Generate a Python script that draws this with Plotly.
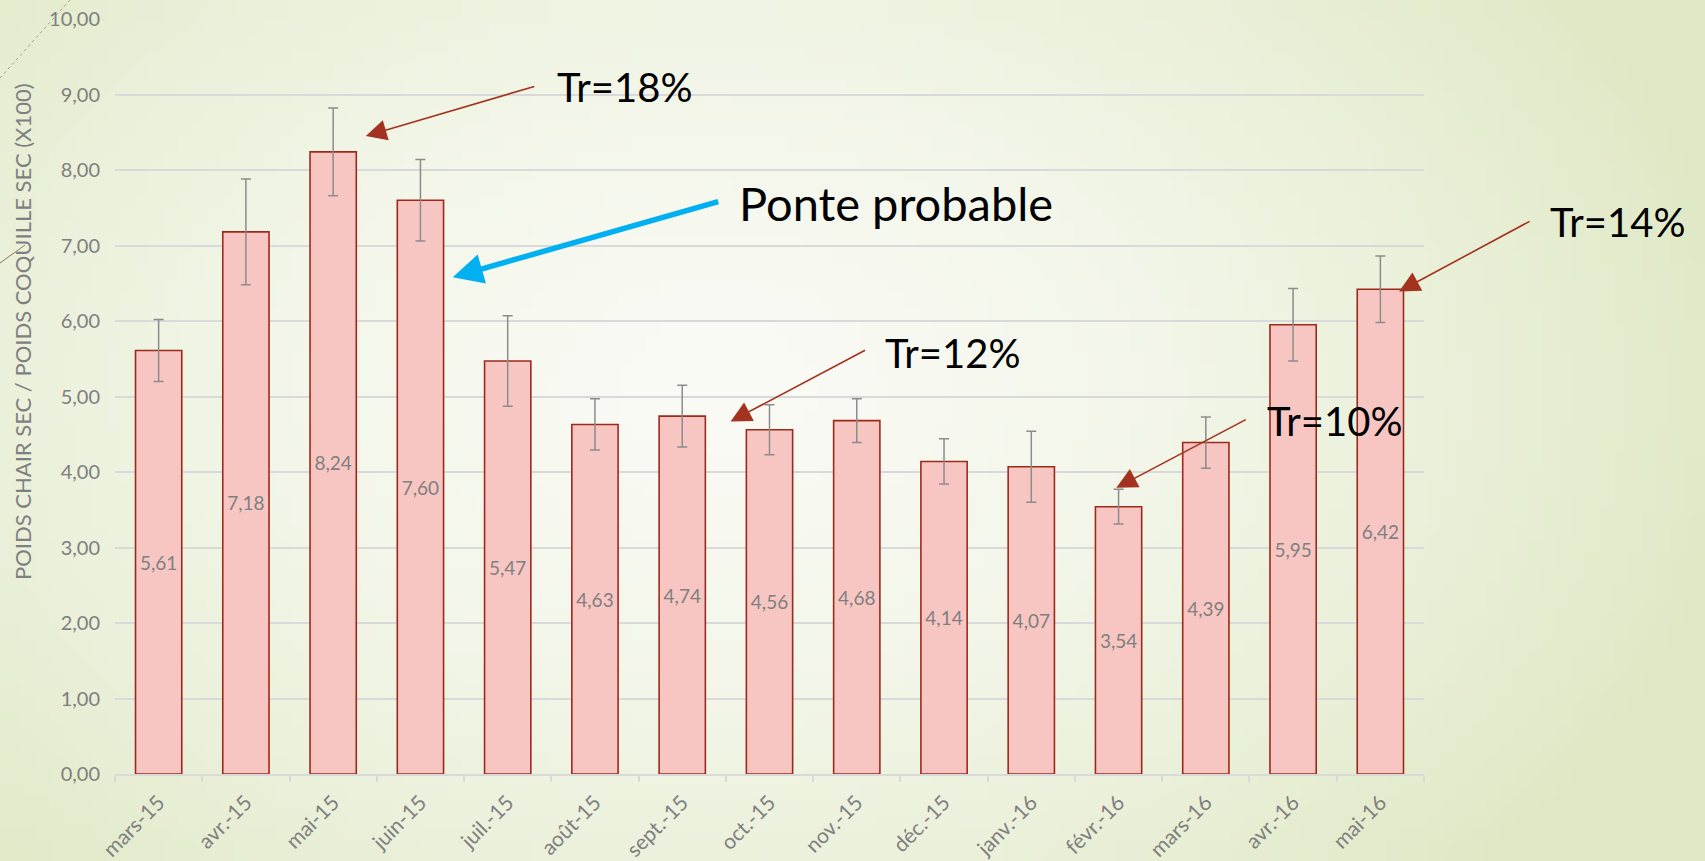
import base64
import struct
import zlib

import plotly.graph_objects as go

# ---------------- data ----------------
categories = ["mars-15", "avr.-15", "mai-15", "juin-15", "juil.-15", "août-15",
              "sept.-15", "oct.-15", "nov.-15", "déc.-15", "janv.-16", "févr.-16",
              "mars-16", "avr.-16", "mai-16"]
values = [5.61, 7.18, 8.24, 7.60, 5.47, 4.63, 4.74, 4.56, 4.68, 4.14, 4.07, 3.54,
          4.39, 5.95, 6.42]
errors = [0.41, 0.70, 0.58, 0.54, 0.60, 0.34, 0.41, 0.33, 0.29, 0.30, 0.47, 0.23,
          0.34, 0.48, 0.44]
y_title = "POIDS CHAIR SEC / POIDS COQUILLE SEC (X100)"

# ---------------- layout geometry (pixels) ----------------
W, H = 1705, 861
L, R, T, B = 115, 281, 19, 87
PW, PH = W - L - R, H - T - B


def px_x(px):
    return (px - L) / PW


def px_y(py):
    return (H - B - py) / PH


# ---------------- background gradient image ----------------
def make_bg_png(w=120, h=60):
    c0 = (249, 250, 244)
    c1 = (222, 232, 196)
    rows = []
    for j in range(h):
        row = bytearray([0])
        fy = j / (h - 1)
        for i in range(w):
            fx = i / (w - 1)
            t = (((fx - 0.42) / 0.62) ** 2 + ((fy - 0.45) / 0.85) ** 2) ** 0.5
            t = min(1.0, t) ** 1.6
            row += bytes(int(round(c0[k] + (c1[k] - c0[k]) * t)) for k in range(3))
        rows.append(bytes(row))
    raw = b"".join(rows)

    def chunk(tag, data):
        c = struct.pack(">I", len(data)) + tag + data
        return c + struct.pack(">I", zlib.crc32(tag + data) & 0xFFFFFFFF)

    png = b"\x89PNG\r\n\x1a\n"
    png += chunk(b"IHDR", struct.pack(">IIBBBBB", w, h, 8, 2, 0, 0, 0))
    png += chunk(b"IDAT", zlib.compress(raw, 9))
    png += chunk(b"IEND", b"")
    return "data:image/png;base64," + base64.b64encode(png).decode()


FONT = "Century Gothic, Lato, sans-serif"
GRAY = "#7f7f7f"
RED = "#a3321f"

fig = go.Figure()
fig.add_trace(go.Bar(
    x=categories,
    y=values,
    marker=dict(color="#f8c6c2", line=dict(color="#9c2a1b", width=1.6)),
    error_y=dict(type="data", array=errors, visible=True, color="#8c8c8c",
                 thickness=1.5, width=5),
    texttemplate="%{y:.2f}",
    textposition="inside",
    insidetextanchor="middle",
    textangle=0,
    constraintext="none",
    textfont=dict(family=FONT, size=19, color=GRAY),
    hoverinfo="x+y",
))

annotations = []

# arrows (tip in data coords, tail as pixel offset)
arrows = [
    (2.374, 8.45, 170, -50, RED, 1.6, 2.6),
    (3.370, 6.58, 267, -76, "#00b0f0", 5.5, 1.1),
    (6.554, 4.67, 136, -72, RED, 1.6, 2.6),
    (10.974, 3.79, 131, -69, RED, 1.6, 2.6),
    (14.214, 6.39, 132, -71, RED, 1.6, 2.6),
]
for x, y, ax, ay, col, wid, size in arrows:
    annotations.append(dict(
        x=x, y=y, xref="x", yref="y", ax=ax, ay=ay, axref="pixel", ayref="pixel",
        text="", showarrow=True, arrowhead=2, arrowsize=size, arrowwidth=wid,
        arrowcolor=col, standoff=0,
    ))

# annotation texts (left edge / vertical center, pixels, font size)
texts = [
    ("Tr=18%", 555, 87, 40),
    ("Ponte probable", 737, 203, 47),
    ("Tr=12%", 883, 353, 40),
    ("Tr=10%", 1265, 421, 40),
    ("Tr=14%", 1548, 222, 40),
]
for txt, px, py, fs in texts:
    annotations.append(dict(
        x=px_x(px), y=px_y(py), xref="paper", yref="paper", text=txt,
        showarrow=False, xanchor="left", yanchor="middle",
        font=dict(family=FONT, size=fs, color="#000000"),
    ))

# y axis title
annotations.append(dict(
    x=px_x(22), y=px_y(332), xref="paper", yref="paper", text=y_title,
    showarrow=False, textangle=-90, xanchor="center", yanchor="middle",
    font=dict(family=FONT, size=22, color=GRAY),
))

shapes = [
    dict(type="line", xref="paper", yref="paper", x0=px_x(0), y0=px_y(78),
         x1=px_x(70), y1=px_y(0), line=dict(color="#a0a090", width=1, dash="dot")),
    dict(type="line", xref="paper", yref="paper", x0=px_x(0), y0=px_y(263),
         x1=px_x(25), y1=px_y(245), line=dict(color="#8a7a5a", width=1)),
]

fig.update_layout(
    width=W, height=H,
    autosize=False,
    margin=dict(l=L, r=R, t=T, b=B, pad=0, autoexpand=False),
    paper_bgcolor="#eef2e2",
    plot_bgcolor="rgba(0,0,0,0)",
    separators=", ",
    showlegend=False,
    bargap=0.47,
    font=dict(family=FONT, color=GRAY),
    annotations=annotations,
    shapes=shapes,
    images=[dict(source=make_bg_png(), xref="paper", yref="paper",
                 x=px_x(0), y=px_y(0), sizex=W / PW, sizey=H / PH,
                 xanchor="left", yanchor="top", sizing="stretch",
                 layer="below")],
    xaxis=dict(
        type="category",
        range=[-0.5, len(categories) - 0.5],
        autorange=False,
        automargin=False,
        tickangle=-45,
        tickfont=dict(family=FONT, size=21, color=GRAY),
        showline=True, linecolor="#d9d9d9", linewidth=2,
        ticks="outside", tickson="boundaries", ticklen=6, tickcolor="#d9d9d9",
        tickwidth=1.5, showgrid=False, ticklabelstandoff=6,
    ),
    yaxis=dict(
        range=[0, 10], autorange=False, automargin=False, dtick=1, tickformat=".2f",
        tickfont=dict(family=FONT, size=20, color=GRAY),
        showgrid=True, gridcolor="#d9d9d9", gridwidth=1.5,
        zeroline=False, showline=False, ticks="", ticklabelstandoff=14,
    ),
)

fig.write_html("out.html",
               config={"displayModeBar": False},
               post_script="document.body.style.margin='0';document.body.style.overflow='hidden';")
